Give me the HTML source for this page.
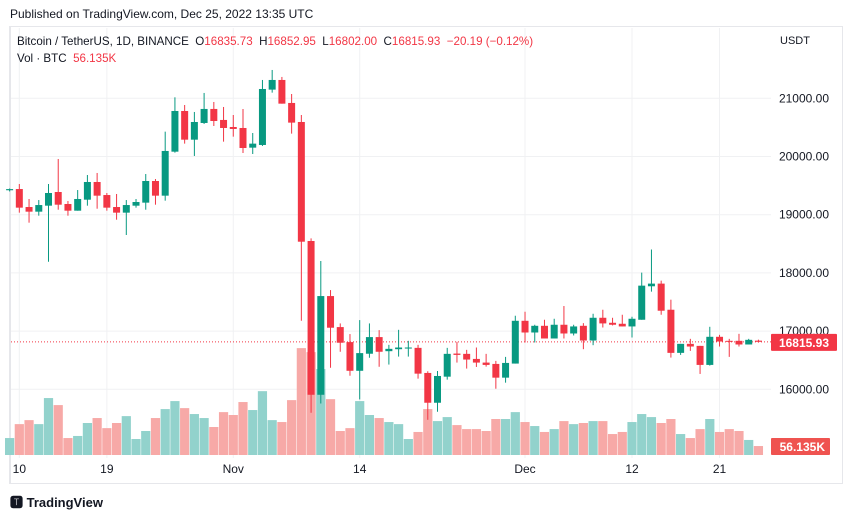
<!DOCTYPE html>
<html><head><meta charset="utf-8">
<style>
html,body{margin:0;padding:0;background:#fff;width:851px;height:518px;overflow:hidden;font-family:"Liberation Sans",sans-serif;}
#hdr{position:absolute;left:10px;top:7px;font-size:12px;color:#131722;}
#frame{position:absolute;left:9px;top:26px;width:831px;height:456px;border:1px solid #e6e7eb;border-left:2px solid #e6e7eb;}
#leg1{position:absolute;left:17px;top:35px;font-size:11.6px;color:#131722;white-space:nowrap;}
#leg2{position:absolute;left:17px;top:52px;font-size:11.6px;color:#131722;}
.r{color:#f23645;}
#foot{position:absolute;left:10px;top:492px;font-size:13px;color:#131722;font-weight:bold;}
svg{position:absolute;left:0;top:0;}
</style></head><body>
<div id="hdr">Published on TradingView.com, Dec 25, 2022 13:35 UTC</div>
<div id="frame"></div>
<svg id="chart" width="851" height="518"></svg>
<div id="leg1">Bitcoin / TetherUS, 1D, BINANCE&nbsp; O<span class="r">16835.73</span>&nbsp; H<span class="r">16852.95</span>&nbsp; L<span class="r">16802.00</span>&nbsp; C<span class="r">16815.93</span>&nbsp; <span class="r">−20.19 (−0.12%)</span></div>
<div id="leg2">Vol · BTC&nbsp; <span class="r">56.135K</span></div>
<div id="foot">🆃 TradingView</div>
<script>
const opens=[19420,19441,19132,19052,19155,19390,19184,19069,19258,19562,19338,19132,19035,19155,19207,19579,19327,20083,20782,20289,
20576,20817,20628,20507,20490,20152,20198,21149,21315,20920,20593,18548,15906,17602,17069,16811,16318,16611,16897,16655,
16689,16700,16712,16281,15769,16217,16614,16609,16522,16459,16436,16200,16442,17177,16976,17091,16873,17109,16959,
17091,16838,17229,17143,17126,17080,17195,17770,17816,17367,16626,16781,16746,16419,16902,16833,16833,16770,16836];
const highs=[19450,19527,19270,19252,19527,19957,19235,19424,19682,19717,19373,19356,19252,19270,19699,19613,20427,21017,20885,20765,
21092,20937,20851,20713,20817,20404,21315,21487,21367,21074,20713,18593,18204,17705,17132,16949,17189,17132,17017,16764,
17022,16833,16764,16310,16315,16712,16816,16678,16718,16609,16488,16557,17264,17333,17109,17195,17212,17431,17109,
17137,17298,17367,17229,17281,17246,18005,18402,17867,17540,16781,16867,16746,17074,16936,16867,16953,16867,16853];
const lows=[19400,19035,18863,18983,18192,19086,18983,19069,19155,19103,19069,18914,18651,19121,19086,19172,19241,20066,20221,20009,
20559,20524,20255,20341,20060,20043,20181,21097,20908,20393,17178,15597,15757,16370,16645,16233,15826,16542,16387,16425,
16562,16562,16183,15476,15614,16166,16459,16356,16384,16390,16010,16114,16442,16804,16804,16873,16873,16873,16925,
16689,16758,17062,17097,17080,16890,17195,17678,17281,16545,16591,16660,16264,16407,16735,16557,16735,16770,16802];
const closes=[19440,19121,19052,19166,19373,19172,19069,19270,19562,19327,19121,19035,19166,19218,19579,19327,20095,20782,20289,20593,
20817,20610,20490,20473,20146,20221,21160,21315,20908,20582,18536,15906,17602,17058,16800,16318,16622,16897,16645,16695,
16718,16718,16269,15769,16229,16609,16591,16511,16459,16419,16200,16453,17177,16976,17091,16873,17109,16959,17080,
16838,17229,17132,17109,17080,17212,17781,17816,17350,16626,16781,16735,16419,16902,16821,16821,16770,16850,16816];
const volumes=[106,193,218,193,356,312,106,119,200,231,168,200,243,100,150,231,287,337,293,256,
231,175,268,250,331,281,399,218,206,343,668,643,537,349,150,168,337,250,231,206,
193,100,144,287,212,237,187,162,162,150,225,225,268,206,181,144,162,212,193,
200,212,212,131,144,206,256,237,200,225,131,106,162,225,144,162,150,94,56];
const priceTicks=[21000,20000,19000,18000,17000,16000];
const timeLabels=["10","19","Nov","14","Dec","12","21"];
const timeIdx=[1,10,23,36,53,64,73];
const lastPrice=16815.93, lastVolLabel="56.135K";

const NS="http://www.w3.org/2000/svg";
const svg=document.getElementById('chart');
const x0=9.6, dx=9.725;
function xs(i){return x0+i*dx;}
function ys(p){return 98.3+(21000-p)*0.0582;}
function yv(v){return 455-v*0.16;}
function mk(t,a,parent){const e=document.createElementNS(NS,t);for(const k in a)e.setAttribute(k,a[k]);(parent||svg).appendChild(e);return e;}
priceTicks.forEach(p=>{
  const l=mk('line',{x1:11,x2:771,y1:ys(p),y2:ys(p),stroke:'#f0f1f3','stroke-width':1});
  
  
  const t=mk('text',{x:829,y:ys(p)+4,'text-anchor':'end','font-size':12,fill:'#131722','font-family':'Liberation Sans, sans-serif'});
  t.textContent=p.toFixed(2);
  
  
});
timeLabels.forEach((s,k)=>{
  const l=mk('line',{x1:xs(timeIdx[k]),x2:xs(timeIdx[k]),y1:28,y2:458,stroke:'#f0f1f3','stroke-width':1});
  
  
  const t=mk('text',{x:xs(timeIdx[k]),y:473,'text-anchor':'middle','font-size':12,fill:'#131722','font-family':'Liberation Sans, sans-serif'});
  t.textContent=s;
  
  
});
const ut=mk('text',{x:780,y:44,'font-size':11,fill:'#131722','font-family':'Liberation Sans, sans-serif'});
ut.textContent='USDT';


volumes.forEach((v,i)=>{
  const up=closes[i]>=opens[i];
  const r=mk('rect',{x:xs(i)-4.6,y:yv(v),width:9.2,height:455-yv(v),fill:up?'#92d2cc':'#f7a9a7'});
  
  
});
const pl=mk('line',{x1:11,x2:771,y1:ys(lastPrice),y2:ys(lastPrice),stroke:'#f23645','stroke-width':1,'stroke-dasharray':'1,2'});


opens.forEach((o,i)=>{
  const c=closes[i],up=c>=o,col=up?'#089981':'#f23645';
  const g=mk('g',{});
  
  
  mk('line',{x1:xs(i),x2:xs(i),y1:ys(highs[i]),y2:ys(lows[i]),stroke:col,'stroke-width':1},g);
  const top=ys(Math.max(o,c)),h=Math.max(1,ys(Math.min(o,c))-top);
  mk('rect',{x:xs(i)-3.5,y:top,width:7,height:h,fill:col},g);
});
const pb=mk('rect',{x:771,y:ys(lastPrice)-8,width:66,height:17,fill:'#f23645',rx:1});


const pt=mk('text',{x:829,y:ys(lastPrice)+5,'text-anchor':'end','font-size':12,'font-weight':'bold',fill:'#fff','font-family':'Liberation Sans, sans-serif'});
pt.textContent=lastPrice.toFixed(2);


const vb=mk('rect',{x:771,y:438,width:59,height:17,fill:'#ef5350',rx:1});


const vt=mk('text',{x:825,y:451,'text-anchor':'end','font-size':12,'font-weight':'bold',fill:'#fff','font-family':'Liberation Sans, sans-serif'});
vt.textContent=lastVolLabel;


</script>
</body></html>
